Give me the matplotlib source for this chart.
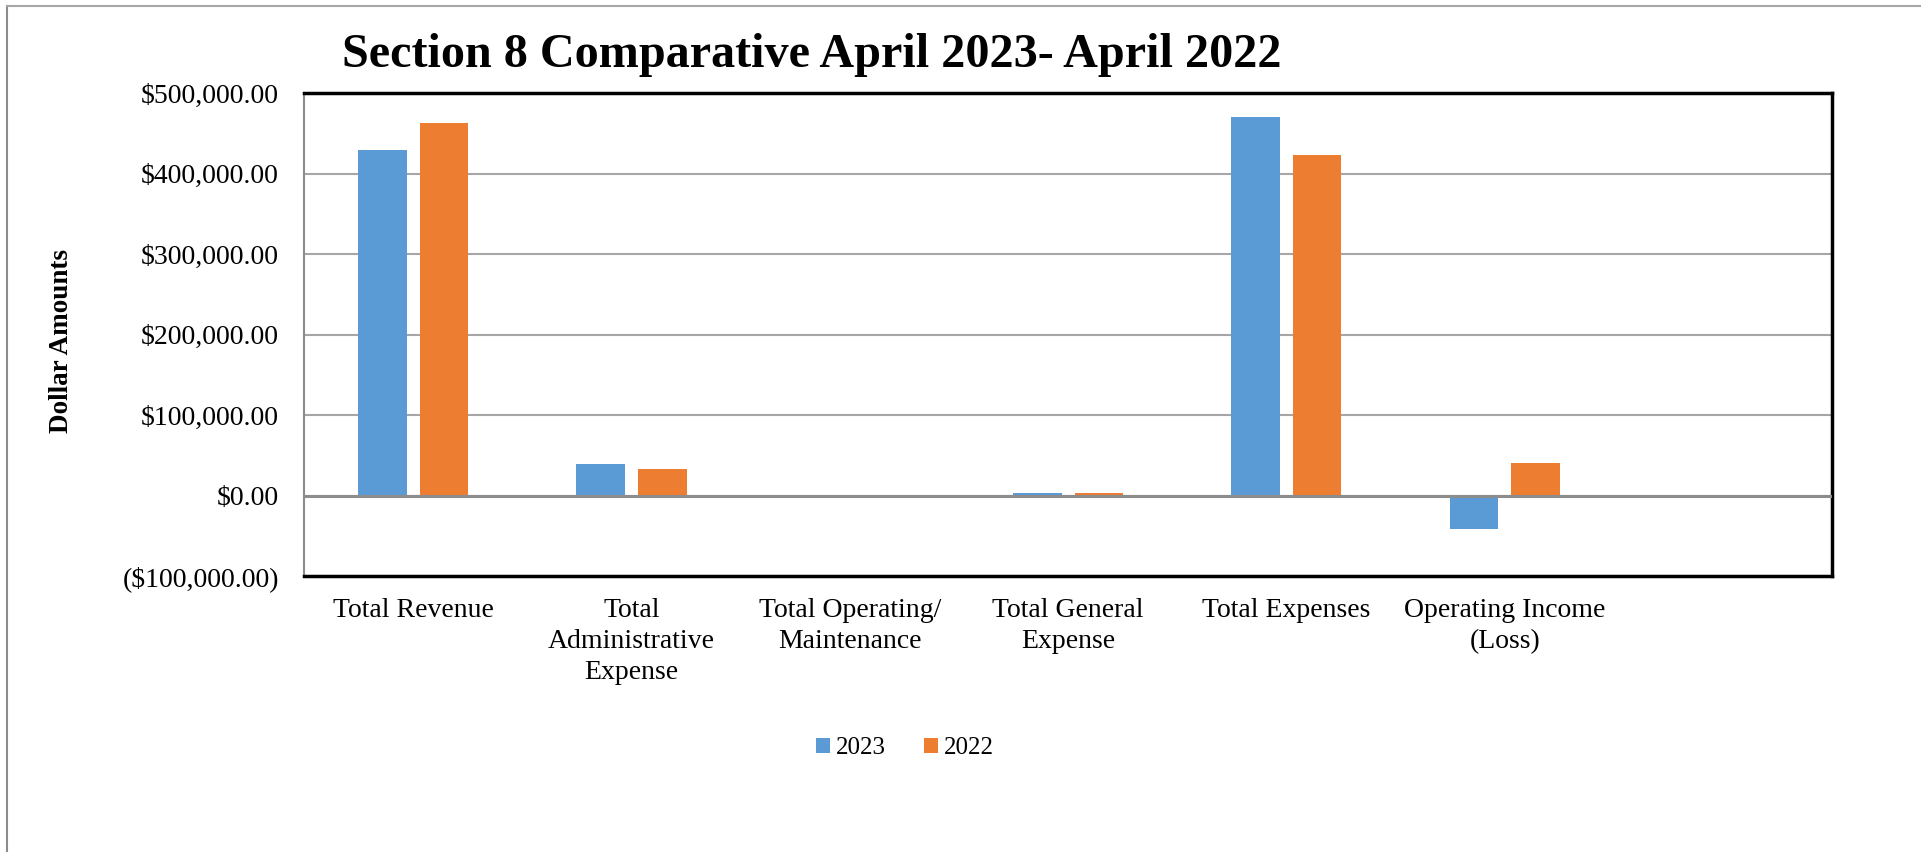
import numpy as np
import matplotlib
matplotlib.use('Agg')
import matplotlib.pyplot as plt
from matplotlib.ticker import FuncFormatter
from matplotlib.patches import Patch
from matplotlib.lines import Line2D

plt.rcParams['font.family'] = ['Liberation Serif', 'DejaVu Serif']

# categories and yearly totals (dollars)
categories = ["Total Revenue", "Total\nAdministrative\nExpense", "Total Operating/\nMaintenance",
              "Total General\nExpense", "Total Expenses", "Operating Income\n(Loss)", ""]
vals_2023 = [428700, 39000, 0, 3200, 470000, -41300]
vals_2022 = [463400, 33000, 0, 3000, 422900, 40500]
series_names = ["2023", "2022"]
yticks = [-100000, 0, 100000, 200000, 300000, 400000, 500000]

blue = '#5B9BD5'
orange = '#ED7D31'

fig = plt.figure(figsize=(19.21, 8.52), dpi=100)
ax = fig.add_axes([0.1583, 0.3239, 0.7954, 0.5669])

x = np.arange(len(vals_2023))
w = 0.223
off = 0.141
ax.bar(x - off, vals_2023, width=w, color=blue, zorder=2)
ax.bar(x + off, vals_2022, width=w, color=orange, zorder=2)

ax.set_xlim(-0.5, len(categories) - 0.5)
ax.set_ylim(-100000, 500000)
ax.set_yticks(yticks)

def money(v, pos):
    if v < 0:
        return "(${:,.2f})".format(-v)
    return "${:,.2f}".format(v)

ax.yaxis.set_major_formatter(FuncFormatter(money))
ax.set_xticks(np.arange(len(categories)))
ax.set_xticklabels(categories, linespacing=1.3)
ax.tick_params(axis='y', length=0, pad=18, labelsize=20)
ax.tick_params(axis='x', length=0, pad=16, labelsize=20)

ax.yaxis.grid(True, color='#a6a6a6', linewidth=1.5, zorder=0)
ax.set_axisbelow(True)
ax.axhline(0, color='#8c8c8c', linewidth=2.2, zorder=3)

for side in ['top', 'right', 'bottom']:
    ax.spines[side].set_color('black')
    ax.spines[side].set_linewidth(2.5)
ax.spines['left'].set_color('#8c8c8c')
ax.spines['left'].set_linewidth(1.5)

fig.text(812 / 1921, 1 - 67 / 852, "Section 8 Comparative April 2023- April 2022",
         fontsize=34.7, fontweight='bold', ha='center', va='baseline')
fig.text(62 / 1921, 1 - 341 / 852, "Dollar Amounts", rotation=90,
         fontsize=19.5, fontweight='bold', ha='center', va='center')

handles = [Patch(facecolor=blue), Patch(facecolor=orange)]
fig.legend(handles, series_names, loc='center', bbox_to_anchor=(905 / 1921, 1 - 748 / 852),
           ncol=2, frameon=False, fontsize=18, handlelength=0.55, handleheight=0.55,
           handletextpad=0.25, columnspacing=1.5)

# outer chart border (left and top edges)
fig.add_artist(Line2D([7 / 1921, 7 / 1921], [0, 1 - 6 / 852], transform=fig.transFigure,
                      color='#8c8c8c', linewidth=1.5))
fig.add_artist(Line2D([7 / 1921, 1], [1 - 6 / 852, 1 - 6 / 852], transform=fig.transFigure,
                      color='#a6a6a6', linewidth=1.5))

fig.savefig('out.png', dpi=100)
